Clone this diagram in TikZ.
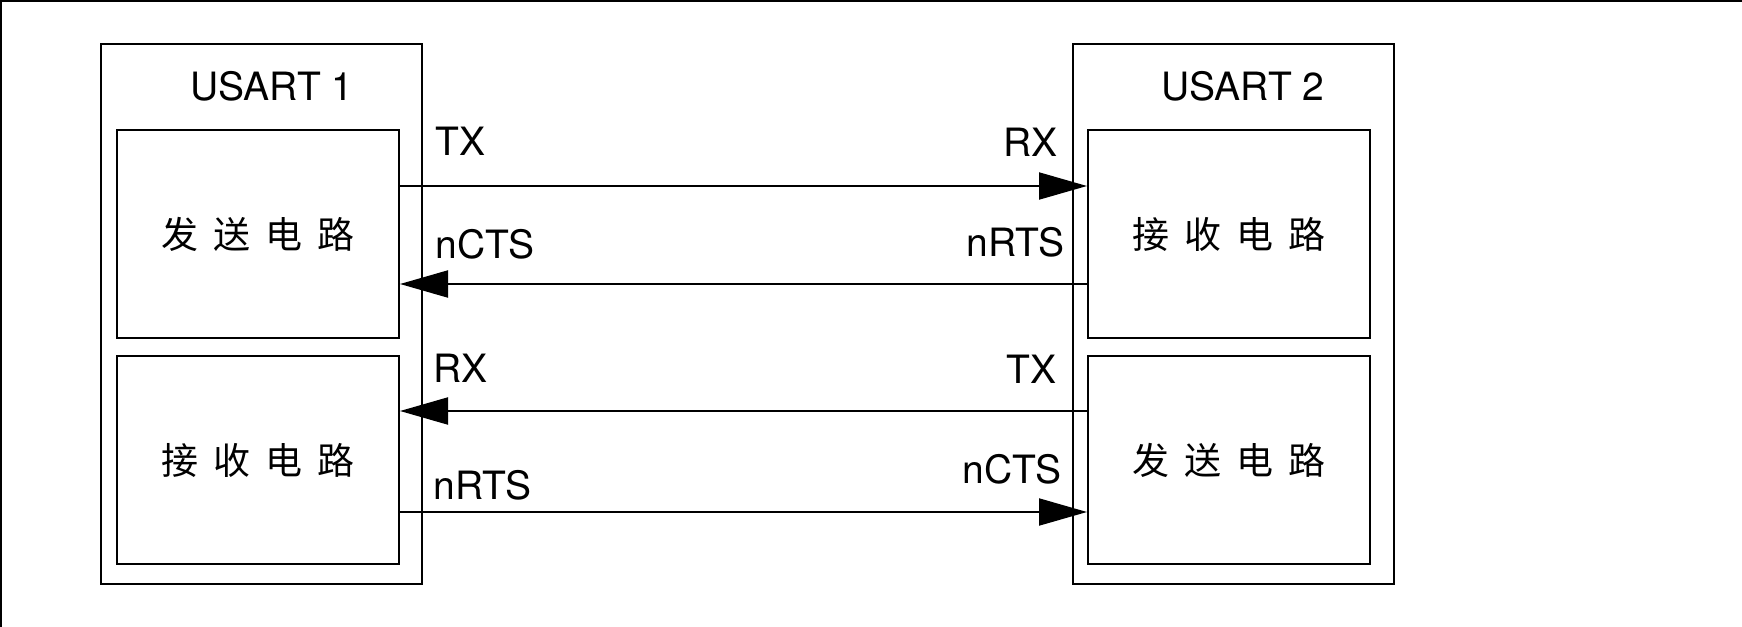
\documentclass[tikz,border=0pt]{standalone}
\usepackage{fontspec}
\setmainfont{TeX Gyre Heros}
\newfontfamily\cjk{Noto Sans CJK SC}
\usetikzlibrary{arrows.meta}

\newcommand{\gap}{\hspace{7.5pt}}

\tikzset{
  usartbox/.style={draw, line width=1pt, inner sep=0pt, anchor=north west,
    minimum width=160.5pt, minimum height=270pt},
  circbox/.style={draw, line width=1pt, inner sep=0pt, anchor=north west,
    minimum width=141pt, minimum height=104pt,
    font=\cjk\fontsize{18.5}{20}\selectfont},
  sig/.style={line width=1pt, -{Triangle[length=24pt,width=13.5pt]}},
  pin/.style={inner sep=0pt, font=\fontsize{19.5}{22}\selectfont},
}

\begin{document}
\begin{tikzpicture}[x=0.5pt, y=-0.5pt]
    \useasboundingbox (0,0) rectangle (1742,627);
    \draw[line width=1pt] (1,627) -- (1,1) -- (1742,1);

    % USART 1
    \node[usartbox] (usart1) at (100,43) {};
    \node[circbox] (send1) at (116,129) {发\gap 送\gap 电\gap 路};
    \node[circbox] (recv1) at (116,355) {接\gap 收\gap 电\gap 路};
    \node[pin] (name1) at (272,86) {USART 1};

    % USART 2
    \node[usartbox] (usart2) at (1072,43) {};
    \node[circbox] (recv2) at (1087,129) {接\gap 收\gap 电\gap 路};
    \node[circbox] (send2) at (1087,355) {发\gap 送\gap 电\gap 路};
    \node[pin] (name2) at (1243,86) {USART 2};

    % pin names
    \node[pin, anchor=west] (tx1)   at (435,141) {TX};
    \node[pin, anchor=west] (ncts1) at (435,244) {nCTS};
    \node[pin, anchor=west] (rx1)   at (433,368) {RX};
    \node[pin, anchor=west] (nrts1) at (433,485) {nRTS};
    \node[pin, anchor=east] (rx2)   at (1058,142) {RX};
    \node[pin, anchor=east] (nrts2) at (1065,242) {nRTS};
    \node[pin, anchor=east] (tx2)   at (1057,369) {TX};
    \node[pin, anchor=east] (ncts2) at (1062,469) {nCTS};

    % signal lines
    \draw[sig] ([yshift=24pt]send1.east) -- ([yshift=24pt]recv2.west);
    \draw[sig] ([yshift=-25pt]recv2.west) -- ([yshift=-25pt]send1.east);
    \draw[sig] ([yshift=24.5pt]send2.west) -- ([yshift=24.5pt]recv1.east);
    \draw[sig] ([yshift=-26pt]recv1.east) -- ([yshift=-26pt]send2.west);
\end{tikzpicture}
\end{document}
